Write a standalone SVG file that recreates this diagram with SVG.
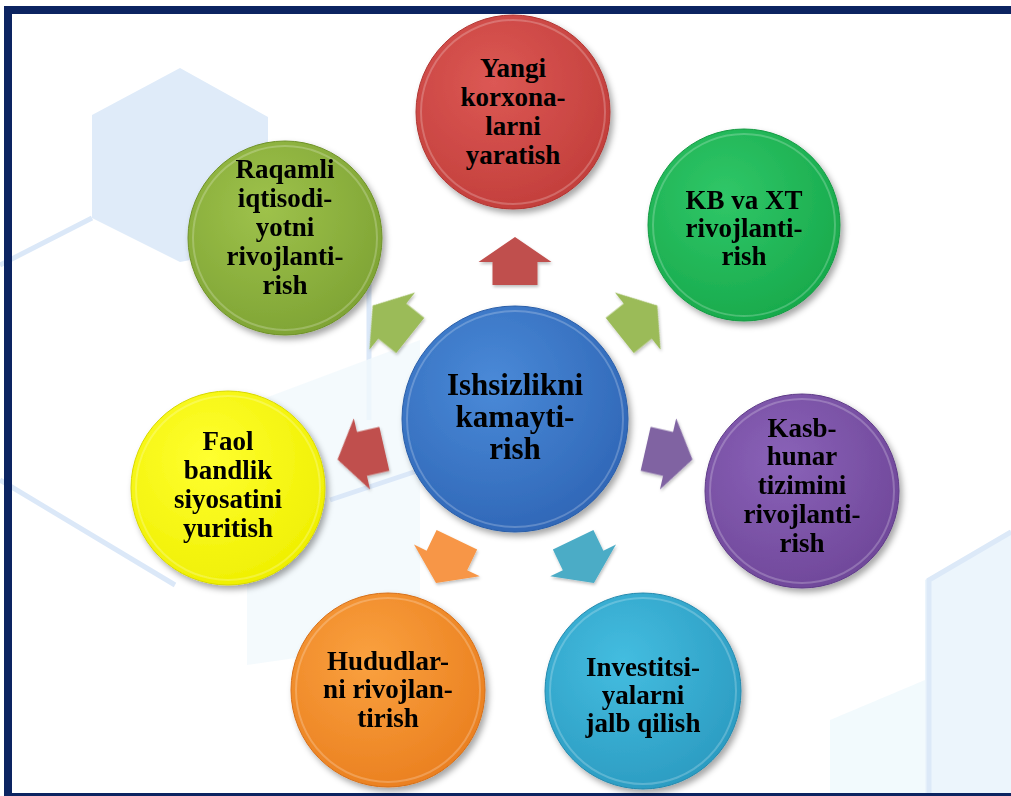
<svg xmlns="http://www.w3.org/2000/svg" width="1011" height="796" viewBox="0 0 1011 796">
<defs>
<filter id="sh" x="-20%" y="-20%" width="150%" height="150%">
<feDropShadow dx="3" dy="4" stdDeviation="3" flood-color="#000" flood-opacity="0.35"/>
</filter>
<filter id="ash" x="-30%" y="-30%" width="160%" height="160%">
<feDropShadow dx="1" dy="2" stdDeviation="1.5" flood-color="#000" flood-opacity="0.25"/>
</filter>
<radialGradient id="gRed" cx="40%" cy="35%" r="70%"><stop offset="0" stop-color="#dc5854"/><stop offset="1" stop-color="#c23e3b"/></radialGradient>
<radialGradient id="gGreen" cx="40%" cy="35%" r="70%"><stop offset="0" stop-color="#30c768"/><stop offset="1" stop-color="#17a94b"/></radialGradient>
<radialGradient id="gPurple" cx="40%" cy="35%" r="70%"><stop offset="0" stop-color="#8a62b8"/><stop offset="1" stop-color="#6f4799"/></radialGradient>
<radialGradient id="gCyan" cx="40%" cy="35%" r="70%"><stop offset="0" stop-color="#44bde0"/><stop offset="1" stop-color="#2b9bc1"/></radialGradient>
<radialGradient id="gOrange" cx="40%" cy="35%" r="70%"><stop offset="0" stop-color="#faa13f"/><stop offset="1" stop-color="#ea7f1f"/></radialGradient>
<radialGradient id="gYellow" cx="40%" cy="35%" r="70%"><stop offset="0" stop-color="#ffff30"/><stop offset="1" stop-color="#efef00"/></radialGradient>
<radialGradient id="gLime" cx="40%" cy="35%" r="70%"><stop offset="0" stop-color="#9ec24b"/><stop offset="1" stop-color="#7ea334"/></radialGradient>
<radialGradient id="gBlue" cx="40%" cy="35%" r="70%"><stop offset="0" stop-color="#4a8ad8"/><stop offset="1" stop-color="#2f66b6"/></radialGradient>
<path id="arr" d="M0,-24 L36.5,1 L22.5,1 L22.5,24 L-22.5,24 L-22.5,1 L-36.5,1 Z"/>
</defs>
<style>
.lbl{font-family:"Liberation Serif","Times New Roman",serif;font-weight:bold;font-size:27px;fill:#000;text-anchor:middle}
.big{font-size:31px}
.rim{fill:none;stroke:#fff;stroke-opacity:0.22;stroke-width:2}
.bg{fill:#dfebf9}
.bgl{fill:none;stroke:#dbe8f8;stroke-width:5}
</style>
<rect x="0" y="0" width="1011" height="796" fill="#fff"/>
<g id="background">
<polygon class="bg" points="180,68 268,117 268,245 180,262 92,218 92,115"/>
<polyline class="bgl" points="0,265 92,218"/>
<polyline class="bgl" points="0,480 175,585"/>
<line x1="369" y1="280" x2="369" y2="420" stroke="#dbe8f8" stroke-width="5"/>
<polygon points="247,405 420,340 420,640 247,665" fill="#f1f9fd" opacity="0.8"/>
<polyline class="bgl" points="330,500 420,470"/>
<polygon points="925,580 1011,530 1011,796 925,796" fill="#eaf4fc" opacity="0.9"/>
<polygon points="830,720 925,680 925,796 830,796" fill="#f1f9fd" opacity="0.9"/>
<polyline points="929,796 929,580 1011,532" fill="none" stroke="#dce9f8" stroke-width="5"/>
</g>
<rect x="8" y="10" width="1020" height="787" fill="none" stroke="#0c2461" stroke-width="8"/>
<g id="connectors" filter="url(#ash)">
<use href="#arr" fill="#c0504d" transform="translate(515,419) rotate(0) translate(0,-158)"/>
<use href="#arr" fill="#9bbb59" transform="translate(515,419) rotate(51.43) translate(0,-158)"/>
<use href="#arr" fill="#8064a2" transform="translate(515,419) rotate(102.86) translate(0,-158)"/>
<use href="#arr" fill="#4bacc6" transform="translate(515,419) rotate(154.29) translate(0,-158)"/>
<use href="#arr" fill="#f79646" transform="translate(515,419) rotate(205.71) translate(0,-158)"/>
<use href="#arr" fill="#c0504d" transform="translate(515,419) rotate(257.14) translate(0,-158)"/>
<use href="#arr" fill="#9bbb59" transform="translate(515,419) rotate(308.57) translate(0,-158)"/>
</g>
<g id="center">
<circle cx="515" cy="419" r="113" fill="url(#gBlue)" stroke="#2a5ea8" stroke-width="1" filter="url(#sh)"/>
<circle class="rim" cx="515" cy="419" r="108"/>
<text class="lbl big" x="515" y="395">Ishsizlikni</text>
<text class="lbl big" x="515" y="427">kamayti-</text>
<text class="lbl big" x="515" y="459">rish</text>
</g>
<g id="node-yangi">
<circle cx="513" cy="112" r="97" fill="url(#gRed)" stroke="#b03633" stroke-width="1" filter="url(#sh)"/>
<circle class="rim" cx="513" cy="112" r="92"/>
<text class="lbl" x="513" y="77">Yangi</text>
<text class="lbl" x="513" y="106">korxona-</text>
<text class="lbl" x="513" y="135">larni</text>
<text class="lbl" x="513" y="164">yaratish</text>
</g>
<g id="node-kb">
<circle cx="744" cy="225" r="96" fill="url(#gGreen)" stroke="#139a43" stroke-width="1" filter="url(#sh)"/>
<circle class="rim" cx="744" cy="225" r="91"/>
<text class="lbl" x="744" y="209">KB va XT</text>
<text class="lbl" x="744" y="237">rivojlanti-</text>
<text class="lbl" x="744" y="265">rish</text>
</g>
<g id="node-kasb">
<circle cx="802" cy="491" r="97" fill="url(#gPurple)" stroke="#5f3c88" stroke-width="1" filter="url(#sh)"/>
<circle class="rim" cx="802" cy="491" r="92"/>
<text class="lbl" x="802" y="437">Kasb-</text>
<text class="lbl" x="802" y="465">hunar</text>
<text class="lbl" x="802" y="494">tizimini</text>
<text class="lbl" x="802" y="523">rivojlanti-</text>
<text class="lbl" x="802" y="552">rish</text>
</g>
<g id="node-invest">
<circle cx="643" cy="691" r="98" fill="url(#gCyan)" stroke="#2489ad" stroke-width="1" filter="url(#sh)"/>
<circle class="rim" cx="643" cy="691" r="93"/>
<text class="lbl" x="643" y="676">Investitsi-</text>
<text class="lbl" x="643" y="704">yalarni</text>
<text class="lbl" x="643" y="732">jalb qilish</text>
</g>
<g id="node-hudud">
<circle cx="388" cy="690" r="97" fill="url(#gOrange)" stroke="#d6701a" stroke-width="1" filter="url(#sh)"/>
<circle class="rim" cx="388" cy="690" r="92"/>
<text class="lbl" x="388" y="670">Hududlar-</text>
<text class="lbl" x="388" y="698">ni rivojlan-</text>
<text class="lbl" x="388" y="727">tirish</text>
</g>
<g id="node-faol">
<circle cx="228" cy="488" r="97" fill="url(#gYellow)" stroke="#d8d800" stroke-width="1" filter="url(#sh)"/>
<circle class="rim" cx="228" cy="488" r="92"/>
<text class="lbl" x="228" y="450">Faol</text>
<text class="lbl" x="228" y="479">bandlik</text>
<text class="lbl" x="228" y="508">siyosatini</text>
<text class="lbl" x="228" y="537">yuritish</text>
</g>
<g id="node-raqamli">
<circle cx="285" cy="238" r="97" fill="url(#gLime)" stroke="#6f9229" stroke-width="1" filter="url(#sh)"/>
<circle class="rim" cx="285" cy="238" r="92"/>
<text class="lbl" x="285" y="178">Raqamli</text>
<text class="lbl" x="285" y="207">iqtisodi-</text>
<text class="lbl" x="285" y="236">yotni</text>
<text class="lbl" x="285" y="265">rivojlanti-</text>
<text class="lbl" x="285" y="294">rish</text>
</g>
</svg>
